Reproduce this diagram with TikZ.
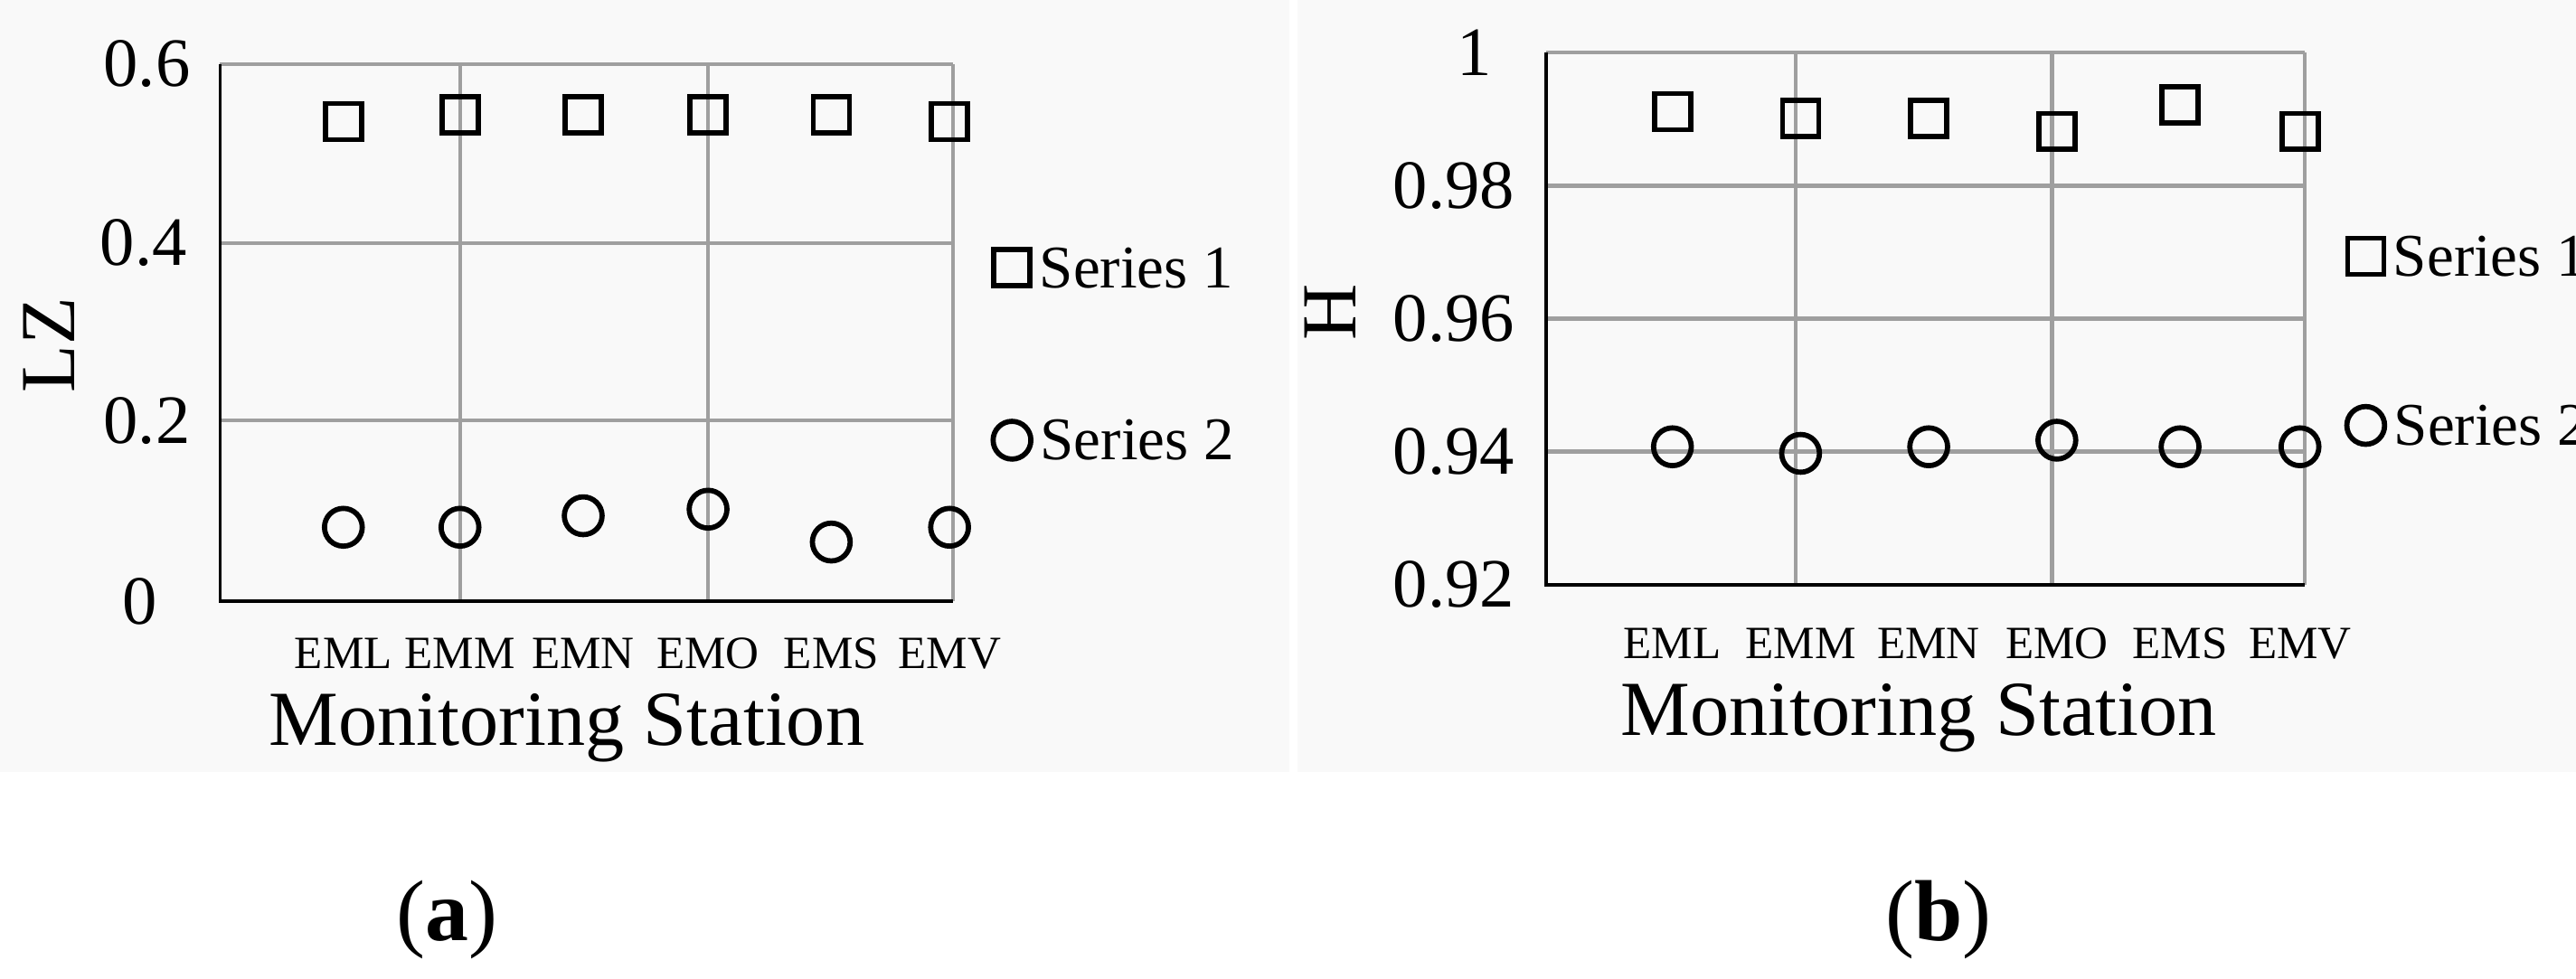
\documentclass[tikz,border=0pt]{standalone}
\usepackage{fontspec}
\setmainfont{Liberation Serif}
\usetikzlibrary{positioning}
\begin{document}
\begin{tikzpicture}[x=0.1mm, y=-0.1mm,
    gridline/.style={draw=gray!75, line width=0.7pt},
    axisline/.style={draw=black, line width=0.6pt},
    sqmark/.style={rectangle, draw=black, line width=0.9pt, minimum size=2.2mm, inner sep=0pt},
    cirmark/.style={circle, draw=black, line width=0.9pt, minimum size=2.3mm, inner sep=0pt},
    ticklabel/.style={anchor=east, font=\fontsize{12}{12}\selectfont, inner sep=1pt},
    catlabel/.style={font=\fontsize{8}{8}\selectfont, inner sep=0pt},
    legtext/.style={anchor=west, font=\fontsize{10.5}{11}\selectfont, inner sep=1pt},
    axistitle/.style={font=\fontsize{13.5}{14}\selectfont, inner sep=0pt}
]
\useasboundingbox (0,0) rectangle (1568,596);

% ==== Panel backgrounds ====
\fill[gray!5] (0,0) rectangle (785,470);
\fill[gray!5] (790,0) rectangle (1568,470);

% ==== Panel (a) grid ====
\foreach \yy in {39,148,256} \draw[gridline] (134,\yy) -- (580,\yy);
\foreach \xx in {280,431,580} \draw[gridline] (\xx,39) -- (\xx,366);
\draw[axisline] (134,39) -- (134,366) -- (580,366);

% ==== Panel (a) ticks ====
\node[ticklabel] (a06) at (120,39) {0.6};
\node[ticklabel] (a04) at (118,148) {0.4};
\node[ticklabel] (a02) at (120,256) {0.2};
\node[ticklabel] (a00) at (100,366) {0};
\node[axistitle, rotate=90] (alz) at (30,210) {LZ};

% ==== Panel (a) data ====
\foreach \xx/\ya/\yb/\lab [count=\i] in {209/74/321/EML, 280/70/321/EMM, 355/70/314/EMN, 431/70/310/EMO, 506/70/330/EMS, 578/74/321/EMV} {
  \node[sqmark] (as\i) at (\xx,\ya) {};
  \node[cirmark] (ac\i) at (\xx,\yb) {};
  \node[catlabel] (at\i) at (\xx,398) {\lab};
}
\node[axistitle] (axt) at (345,443) {Monitoring Station};

% ==== Panel (a) legend ====
\node[sqmark] (alsq) at (616,163) {};
\node[legtext, right=0pt of alsq] {Series 1};
\node[cirmark] (alci) at (616,268) {};
\node[legtext, right=0pt of alci] {Series 2};

% ==== Panel (b) grid ====
\foreach \yy in {32,113,194,275} \draw[gridline] (941,\yy) -- (1403,\yy);
\foreach \xx in {1093,1249,1403} \draw[gridline] (\xx,32) -- (\xx,356);
\draw[axisline] (941,32) -- (941,356) -- (1403,356);

% ==== Panel (b) ticks ====
\node[ticklabel] (b100) at (912,32) {1};
\node[ticklabel] (b098) at (926,113) {0.98};
\node[ticklabel] (b096) at (926,194) {0.96};
\node[ticklabel] (b094) at (926,275) {0.94};
\node[ticklabel] (b092) at (926,356) {0.92};
\node[axistitle, rotate=90] (bh) at (810,190) {H};

% ==== Panel (b) data ====
\foreach \xx/\ya/\yb/\lab [count=\i] in {1018/68/272/EML, 1096/72/276/EMM, 1174/72/272/EMN, 1252/80/268/EMO, 1327/64/272/EMS, 1400/80/272/EMV} {
  \node[sqmark] (bs\i) at (\xx,\ya) {};
  \node[cirmark] (bc\i) at (\xx,\yb) {};
  \node[catlabel] (bt\i) at (\xx,392) {\lab};
}
\node[axistitle] (bxt) at (1168,437) {Monitoring Station};

% ==== Panel (b) legend ====
\node[sqmark] (blsq) at (1440,156) {};
\node[legtext, right=0pt of blsq] {Series 1};
\node[cirmark] (blci) at (1440,259) {};
\node[legtext, right=0pt of blci] {Series 2};

% ==== Captions ====
\node[font=\fontsize{15}{15}\selectfont] (capa) at (272,560) {(\textbf{a})};
\node[font=\fontsize{15}{15}\selectfont] (capb) at (1180,560) {(\textbf{b})};
\end{tikzpicture}
\end{document}
